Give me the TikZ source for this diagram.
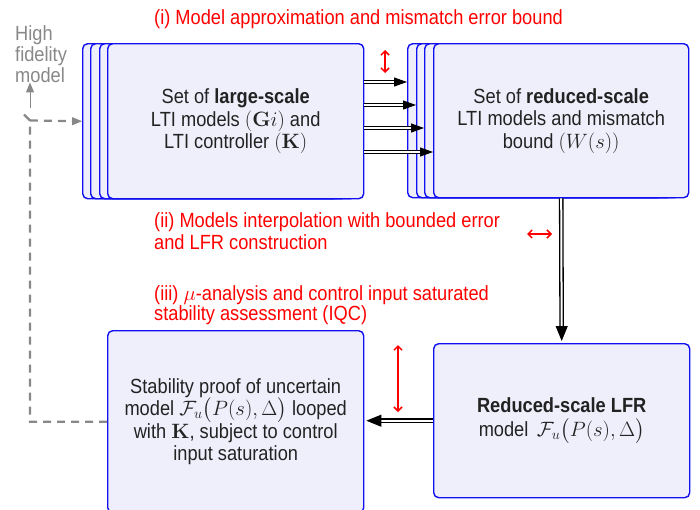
\documentclass[tikz,border=0pt]{standalone}
\usepackage{amsmath}
\usepackage[no-math]{fontspec}
\setmainfont{Liberation Sans}[FakeStretch=0.89]
\usetikzlibrary{arrows.meta,calc}
\definecolor{boxfill}{HTML}{EFEFFC}
\definecolor{boxblue}{HTML}{1010F0}
\definecolor{dgray}{HTML}{888888}
\definecolor{txt}{HTML}{222222}
\begin{document}
\begin{tikzpicture}[x=1pt,y=-1pt,
  every node/.style={font=\fontsize{20.5}{22.5}\selectfont},
  blk/.style={draw=boxblue, fill=boxfill, line width=1.4pt, rounded corners=5pt,
    anchor=north west, inner sep=0pt, align=center, text=txt},
  dbl/.style={draw=black, double=white, double distance=2pt, line width=1.3pt},
  tipA/.style={-{Triangle[length=13pt,width=9pt]}, line width=1pt},
  tipB/.style={-{Triangle[length=15pt,width=12pt]}, line width=1pt},
  redarr/.style={red, line width=1.5pt, {Straight Barb[length=4pt,width=8pt]}-{Straight Barb[length=4pt,width=8pt]}},
  redtxt/.style={red, inner sep=0pt, align=left},
  gdash/.style={dgray, line width=2.2pt, dash pattern=on 8pt off 6pt},
  gtip/.style={dgray, line width=1pt, -{Triangle[length=10pt,width=8pt]}}]
\useasboundingbox (0,0) rectangle (700,509);

% large-scale stack
\node[blk, minimum width=256, minimum height=155] (L1) at (82,43) {};
\node[blk, minimum width=256, minimum height=155] (L2) at (90,43) {};
\node[blk, minimum width=256, minimum height=155] (L3) at (99,43) {};
\node[blk, minimum width=256, minimum height=155] (L) at (107,43)
  {Set of \textbf{large-scale}\\LTI models $(\mathbf{G}i)$ and\\LTI controller $(\mathbf{K})$};

% reduced-scale stack
\node[blk, minimum width=255, minimum height=154] (R1) at (407,43) {};
\node[blk, minimum width=255, minimum height=154] (R2) at (416,43) {};
\node[blk, minimum width=255, minimum height=154] (R3) at (424,43) {};
\node[blk, minimum width=255, minimum height=154] (R) at (433,43)
  {Set of \textbf{reduced-scale}\\LTI models and mismatch\\bound $(W(s))$};

% LFR box
\node[blk, minimum width=256, minimum height=154] (F) at (433,343)
  {\textbf{Reduced-scale LFR}\\[2pt]model\, $\mathcal{F}_u\bigl(P(s),\Delta\bigr)$};

% stability box
\node[blk, minimum width=256, minimum height=182] (S) at (107,330)
  {Stability proof of uncertain\\model $\mathcal{F}_u\bigl(P(s),\Delta\bigr)$ looped\\with $\mathbf{K}$, subject to control\\input saturation};

% texts
\node[redtxt, anchor=west] (t1) at (154,19) {(i) Model approximation and mismatch error bound};
\node[redtxt, anchor=west] (t2) at (154,231) {(ii) Models interpolation with bounded error\\[-1pt]and LFR construction};
\node[redtxt, anchor=west] (t3) at (154,305) {(iii) $\mu$-analysis and control input saturated\\[-3pt]stability assessment (IQC)};
\node[dgray, inner sep=0pt, align=left, anchor=north west, font=\fontsize{20.5}{21}\selectfont] (hf) at (15,25) {High\\fidelity\\model};

% four arrows between stacks
\path (L.north east) ++(0,39) coordinate (a1);
\path (L.north east) ++(0,62) coordinate (a2);
\path (L.north east) ++(0,85) coordinate (a3);
\path (L.north east) ++(0,109) coordinate (a4);
\draw[dbl, shorten >=10pt] (a1) -- (a1 -| R1.west);
\draw[tipA] ($(a1 -| R1.west)+(-13,0)$) -- (a1 -| R1.west);
\draw[dbl, shorten >=10pt] (a2) -- (a2 -| R2.west);
\draw[tipA] ($(a2 -| R2.west)+(-13,0)$) -- (a2 -| R2.west);
\draw[dbl, shorten >=10pt] (a3) -- (a3 -| R3.west);
\draw[tipA] ($(a3 -| R3.west)+(-13,0)$) -- (a3 -| R3.west);
\draw[dbl, shorten >=10pt] (a4) -- (a4 -| R.west);
\draw[tipA] ($(a4 -| R.west)+(-13,0)$) -- (a4 -| R.west);

% vertical arrow
\draw[dbl, shorten >=12pt] (R.south) -- (F.north);
\draw[tipB] ($(F.north)+(0,-16)$) -- ($(F.north)+(0,-2)$);

% bottom horizontal arrow
\draw[dbl, shorten >=12pt] (F.west) -- (F.west -| S.east);
\draw[tipB] ($(F.west -| S.east)+(16,0)$) -- ($(F.west -| S.east)+(2,0)$);

% red arrows
\coordinate (r1a) at (385,50); \coordinate (r1b) at (385,73);
\draw[redarr] (r1a) -- (r1b);
\coordinate (r2a) at (527,234); \coordinate (r2b) at (552,234);
\draw[redarr] (r2a) -- (r2b);
\coordinate (r3a) at (398,345); \coordinate (r3b) at (398,412);
\draw[redarr] (r3a) -- (r3b);

% gray dashed feedback
\coordinate (c) at (30,120.5);
\draw[gdash, shorten >=8pt] (S.west) -| (c) -- (L1.west);
\draw[gtip] ($(L1.west)+(-10,0)$) -- (L1.west);
\draw[dgray, line width=2.2pt] (c) -- ++(-6,-6);
\coordinate (u1) at (30,108);
\draw[gtip] (u1) -- (hf.south -| u1);
\end{tikzpicture}
\end{document}
